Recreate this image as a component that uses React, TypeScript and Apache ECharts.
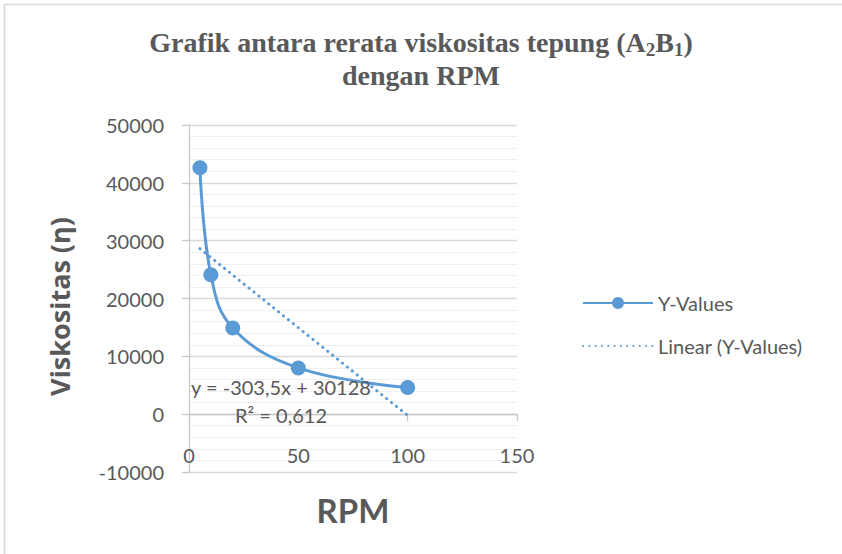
import React, { useEffect, useRef } from "react";
import * as echarts from "echarts";

const rpm = [5, 10, 20, 50, 100];
const viscosity = [42600, 24100, 14900, 8000, 4600];
const trendSlope = -303.5;
const trendIntercept = 30128;
const trendX = [5, 100];
const equationText = "y = -303,5x + 30128";
const r2Text = "R² = 0,612";
const seriesNames = ["Y-Values", "Linear (Y-Values)"];

const GREY = "#595959";
const BLUE = "#5b9bd5";
const FONT = "Lato, 'Open Sans', sans-serif";
const SERIF = "'Liberation Serif', 'Times New Roman', serif";

export default function App() {
  const ref = useRef<HTMLDivElement>(null);
  useEffect(() => {
    if (!ref.current) return;
    const chart = echarts.init(ref.current, null, { renderer: "svg" });
    const mainData = rpm.map((x, i) => [x, viscosity[i]]);
    const trendData = trendX.map((x) => [x, trendSlope * x + trendIntercept]);
    chart.setOption({
      animation: false,
      backgroundColor: "#ffffff",
      title: {
        text: "Grafik antara rerata viskositas tepung ({b|A}{sub|2}{b|B}{sub|1}{b|)}\ndengan RPM",
        left: "center",
        top: 21,
        textStyle: {
          fontFamily: SERIF,
          fontWeight: "bold",
          fontSize: 28,
          color: GREY,
          lineHeight: 33,
          rich: {
            b: { fontFamily: SERIF, fontWeight: "bold", fontSize: 28, color: GREY, lineHeight: 33 },
            sub: {
              fontFamily: SERIF,
              fontWeight: "bold",
              fontSize: 19,
              color: GREY,
              lineHeight: 20,
              verticalAlign: "bottom",
            },
          },
        },
      },
      grid: { left: 189, right: 325, top: 125, bottom: 82, outerBoundsMode: "none", containLabel: false },
      legend: {
        orient: "vertical",
        left: 577,
        top: 288,
        itemWidth: 70,
        itemHeight: 15,
        itemGap: 23,
        data: [{ name: seriesNames[0] }, { name: seriesNames[1], itemStyle: { opacity: 0 } }],
        textStyle: { fontFamily: FONT, fontSize: 20, color: GREY },
      },
      xAxis: {
        type: "value",
        min: 0,
        max: 150,
        interval: 50,
        name: "RPM",
        nameLocation: "middle",
        nameGap: 21,
        nameTextStyle: { fontFamily: FONT, fontSize: 33, fontWeight: "bold", color: GREY },
        axisLine: { show: true, onZero: true, lineStyle: { color: "#c8c8c8", width: 1.3 } },
        axisTick: { show: true, length: 7, lineStyle: { color: "#c8c8c8", width: 1.3 } },
        axisLabel: { fontFamily: FONT, fontSize: 20, color: GREY, margin: -27 },
        splitLine: { show: false },
      },
      yAxis: {
        type: "value",
        min: -10000,
        max: 50000,
        interval: 10000,
        name: "Viskositas (η)",
        nameLocation: "middle",
        nameGap: 116,
        nameTextStyle: {
          fontFamily: "'Open Sans', Lato, sans-serif",
          fontSize: 27,
          fontWeight: "bold",
          color: GREY,
          padding: [0, 16, 0, 0],
        },
        axisLine: { show: true, lineStyle: { color: "#c8c8c8", width: 1.3 } },
        axisTick: { show: true, length: 7, lineStyle: { color: "#c8c8c8", width: 1.3 } },
        axisLabel: {
          fontFamily: FONT,
          fontSize: 20,
          color: GREY,
          margin: 25,
          formatter: (v: number) => String(v),
        },
        splitLine: { show: true, lineStyle: { color: "#d9d9d9", width: 1.3 } },
        minorTick: { show: false, splitNumber: 5 },
        minorSplitLine: { show: true, lineStyle: { color: "#efefef", width: 1 } },
      },
      series: [
        {
          name: seriesNames[0],
          type: "line",
          data: mainData,
          smooth: 0.4,
          symbol: "circle",
          symbolSize: 15,
          itemStyle: { color: BLUE },
          lineStyle: { color: BLUE, width: 3 },
          z: 3,
        },
        {
          name: seriesNames[1],
          type: "line",
          data: trendData,
          symbol: "none",
          itemStyle: { color: BLUE },
          lineStyle: { color: BLUE, width: 3, type: [0.1, 6.2], cap: "round" },
          z: 2,
        },
      ],
      graphic: [
        {
          type: "rect",
          silent: true,
          shape: { x: 4.5, y: 4.5, width: 900, height: 700 },
          style: { fill: "none", stroke: "#d9d9d9", lineWidth: 1.5 },
          z: -1,
        },
        {
          type: "text",
          x: 281,
          y: 387,
          z: 10,
          style: {
            text: equationText,
            fontFamily: FONT,
            fontSize: 20,
            fill: GREY,
            textAlign: "center",
            textVerticalAlign: "middle",
          },
        },
        {
          type: "text",
          x: 281,
          y: 415,
          z: 10,
          style: {
            text: r2Text,
            fontFamily: FONT,
            fontSize: 20,
            fill: GREY,
            textAlign: "center",
            textVerticalAlign: "middle",
          },
        },
      ],
    });
    return () => chart.dispose();
  }, []);
  return (
    <div
      ref={ref}
      style={{ position: "fixed", left: 0, top: 0, width: 842, height: 554, background: "#fff" }}
    />
  );
}
